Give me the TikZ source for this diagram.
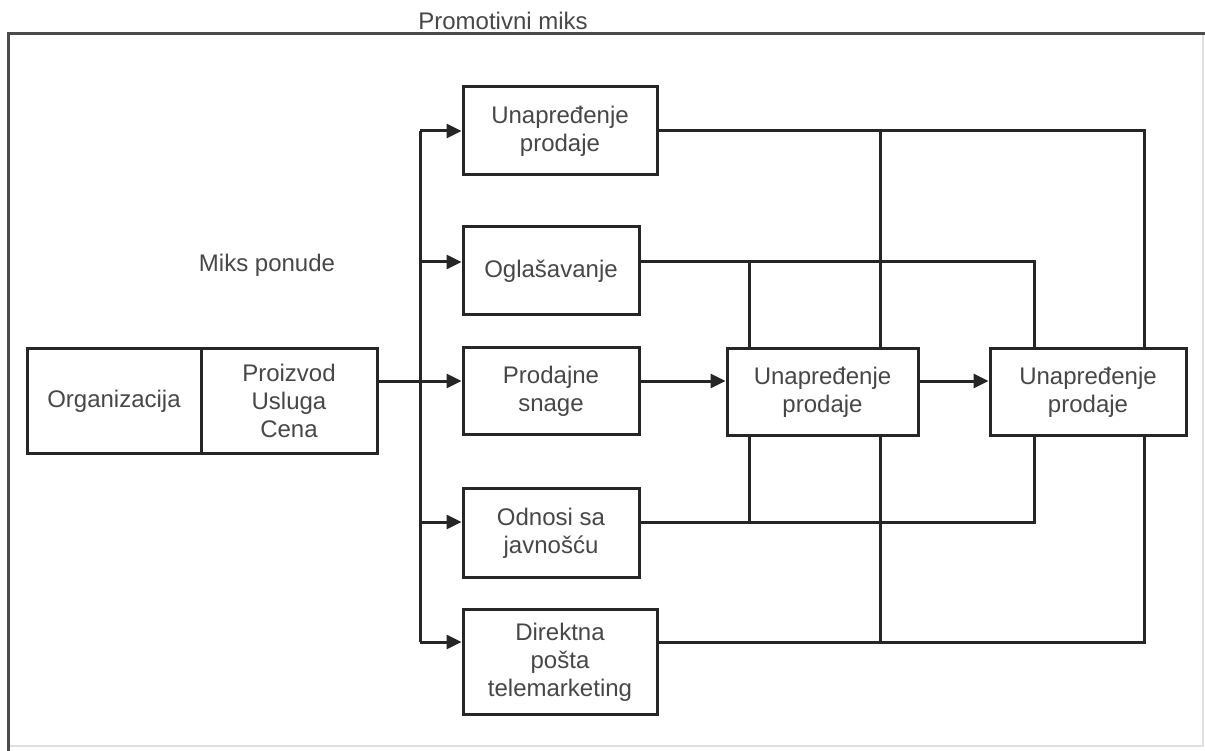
\documentclass[tikz,border=0pt]{standalone}
\usepackage{fontspec}
\setmainfont{Liberation Sans}
\usetikzlibrary{arrows.meta}
\begin{document}
\begin{tikzpicture}[x=1pt,y=-1pt,
  ln/.style={line width=3pt,draw=black!85,line join=miter},
  arr/.style={ln,-{Triangle[length=15pt,width=14pt]}},
  txt/.style={font=\fontsize{24}{28}\selectfont,text=black!72},
  box/.style={txt,draw=black!85,line width=3pt,fill=white,align=center,inner sep=0pt}]
\useasboundingbox (0,0) rectangle (1205,751);
% frame
\draw[black!12,line width=1.5pt] (8,746) -- (1203,746) -- (1203,34);
\draw[ln,black!70] (1205,34) -- (8,34) -- (8,751);
\node[txt,anchor=base] (title) at (503,30) {Promotivni miks};
\node[txt] (miks) at (267,265) {Miks ponude};
% left box
\node[box,minimum width=174pt,minimum height=104pt] (org) at (114,401) {Organizacija};
\node[box,minimum width=176pt,minimum height=104pt] (pus) at (289,401) {Proizvod\\Usluga\\Cena};
% promo boxes
\node[box,minimum width=194pt,minimum height=88pt] (b1) at (560,131) {Unapređenje\\prodaje};
\node[box,minimum width=176pt,minimum height=88pt] (b2) at (551,271) {Oglašavanje};
\node[box,minimum width=176pt,minimum height=86pt] (b3) at (551,391) {Prodajne\\snage};
\node[box,minimum width=176pt,minimum height=89pt] (b4) at (551,533) {Odnosi sa\\javnošću};
\node[box,minimum width=194pt,minimum height=105pt] (b5) at (560,662) {Direktna\\pošta\\telemarketing};
\node[box,minimum width=191pt,minimum height=86pt] (M) at (822.5,392) {Unapređenje\\prodaje};
\node[box,minimum width=196pt,minimum height=86pt] (R) at (1088,392) {Unapređenje\\prodaje};
% trunk coordinates
\coordinate (t1) at (420,131);
\coordinate (t2) at (420,262);
\coordinate (t3) at (420,381);
\coordinate (t4) at (420,522);
\coordinate (t5) at (420,642);
\coordinate (c1) at (880,131);
\coordinate (c2) at (1144,131);
\coordinate (d1) at (749,262);
\coordinate (d2) at (1034,262);
\coordinate (e1) at (749,522);
\coordinate (e2) at (1034,522);
\coordinate (f1) at (880,642);
\coordinate (f2) at (1144,642);
% left side connectors
\draw[ln] (t1) -- (t5);
\draw[arr] (pus.east |- t3) -- (b3.west |- t3);
\draw[arr] (t1) -- (b1.west |- t1);
\draw[arr] (t2) -- (b2.west |- t2);
\draw[arr] (t4) -- (b4.west |- t4);
\draw[arr] (t5) -- (b5.west |- t5);
% chain
\draw[arr] (b3.east |- t3) -- (M.west |- t3);
\draw[arr] (M.east |- t3) -- (R.west |- t3);
% right side network
\draw[ln] (b1.east |- c1) -- (c2) -- (c2 |- R.north);
\draw[ln] (c1) -- (c1 |- M.north);
\draw[ln] (M.south -| c1) -- (f1);
\draw[ln] (b2.east |- d1) -- (d2) -- (d2 |- R.north);
\draw[ln] (d1) -- (d1 |- M.north);
\draw[ln] (b4.east |- e2) -- (e2) -- (e2 |- R.south);
\draw[ln] (e1) -- (e1 |- M.south);
\draw[ln] (b5.east |- f2) -- (f2) -- (f2 |- R.south);
\end{tikzpicture}
\end{document}
